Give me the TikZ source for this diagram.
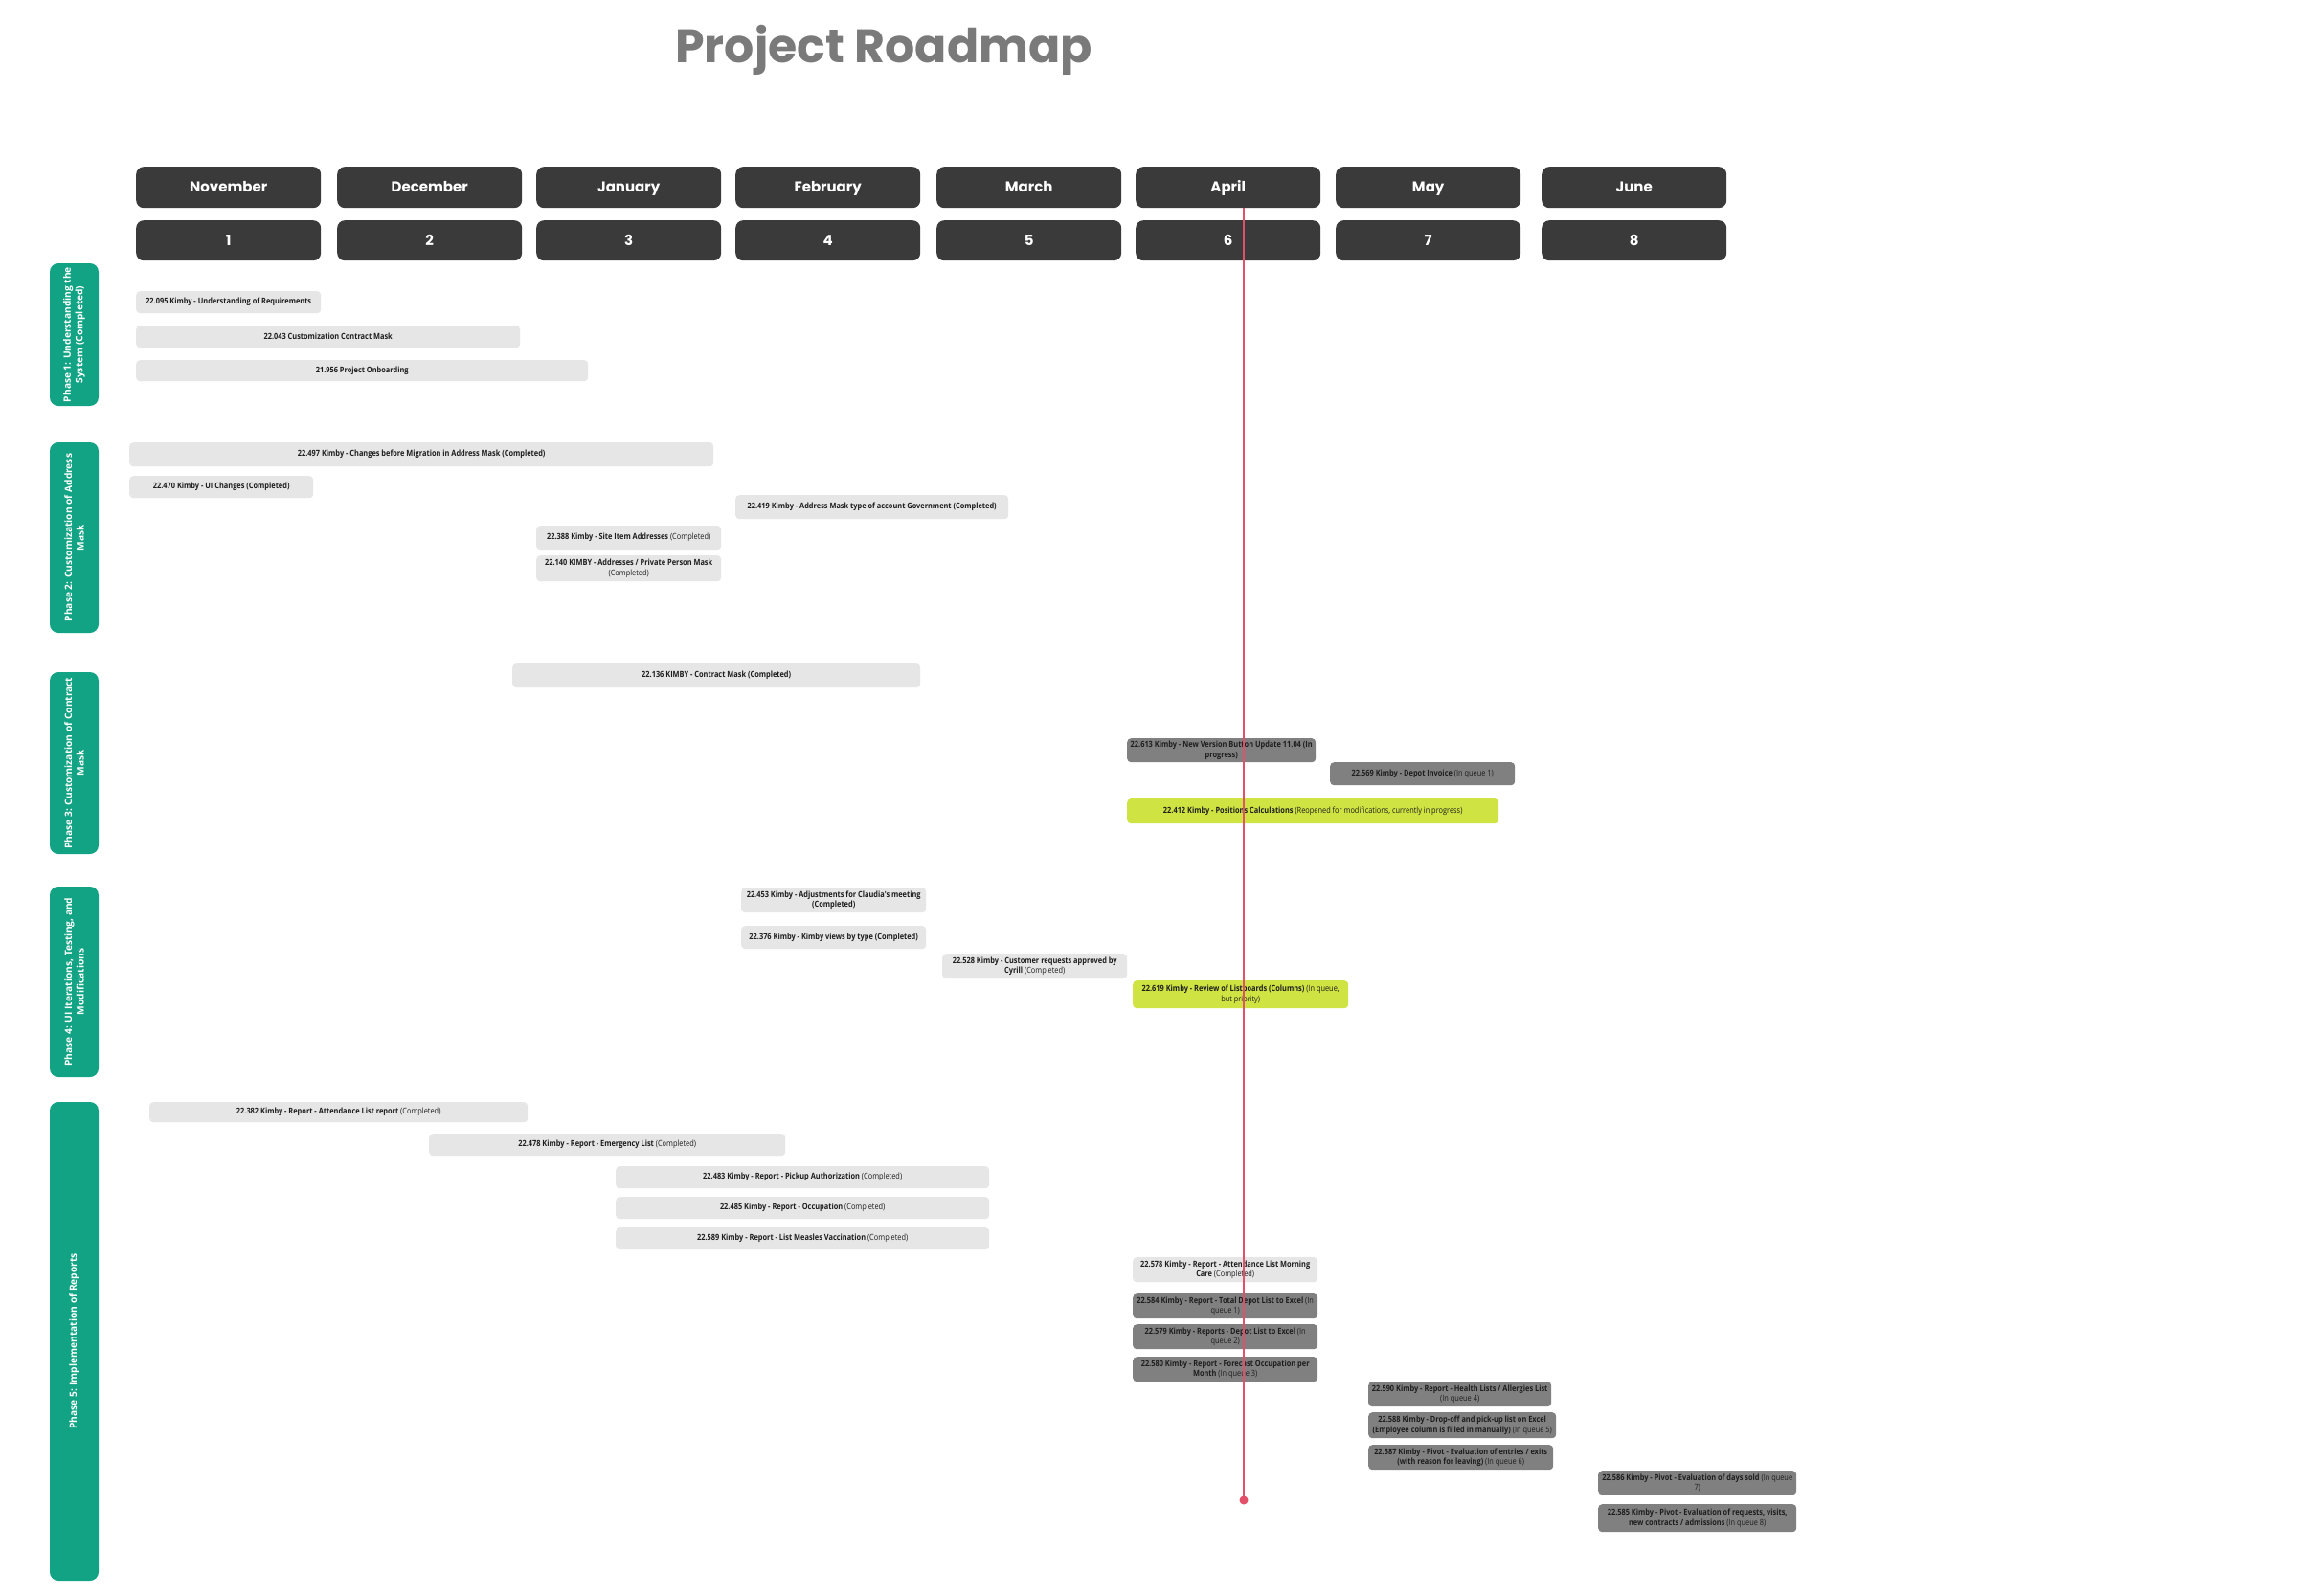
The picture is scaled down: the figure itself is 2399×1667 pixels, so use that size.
\documentclass[tikz,border=0pt]{standalone}
\usepackage{fontspec}
\usepackage{tikz}
\usetikzlibrary{positioning, calc}
\newfontfamily\headfont{Poppins}
\newfontfamily\phasefont{Open Sans}
\newfontfamily\taskfont[FakeStretch=0.86]{Open Sans}
\definecolor{titlegray}{HTML}{7A7A7A}
\definecolor{headdark}{HTML}{3A3A3A}
\definecolor{phasegreen}{HTML}{12A384}
\definecolor{donegray}{HTML}{E6E6E6}
\definecolor{queuegray}{HTML}{808080}
\definecolor{activelime}{HTML}{CFE442}
\definecolor{todayred}{HTML}{E2506A}
\definecolor{taskink}{HTML}{1E1E1E}
\newcommand{\taskstate}[1]{{\mdseries #1}}
\tikzstyle{monthbox} = [rectangle, rounded corners=8pt, fill=headdark, text=white, minimum width=193pt, minimum height=43pt, anchor=north west, text height=10.5pt, text depth=0pt, font=\headfont\bfseries\fontsize{15}{18}\selectfont]
\tikzstyle{sprintbox} = [monthbox, minimum height=42pt]
\tikzstyle{phasebox} = [rectangle, rounded corners=9pt, fill=phasegreen, text=white, rotate=90, minimum height=51pt, align=center, font=\phasefont\bfseries\fontsize{10.2}{12.5}\selectfont]
\tikzstyle{task} = [rectangle, rounded corners=4pt, anchor=north west, align=center, inner xsep=1.5pt, inner ysep=1pt, text=taskink, font=\taskfont\bfseries\fontsize{8.6}{10.5}\selectfont]
\tikzstyle{donetask} = [task, fill=donegray]
\tikzstyle{queuetask} = [task, fill=queuegray]
\tikzstyle{activetask} = [task, fill=activelime]
\tikzstyle{todayline} = [todayred, line width=1.6pt]

\begin{document}
\begin{tikzpicture}[x=1pt, y=-1pt]
    \fill[white] (0,0) rectangle (2399,1667);
    \useasboundingbox (0,0) rectangle (2399,1667);

    \node (title) [text=titlegray, font=\headfont\bfseries\fontsize{49}{58}\selectfont] at (923,52) {Project Roadmap};

    % months
    \node (nov) [monthbox] at (142,174) {November};
    \node (dec) [monthbox] at (352,174) {December};
    \node (jan) [monthbox] at (560,174) {January};
    \node (feb) [monthbox] at (768,174) {February};
    \node (mar) [monthbox] at (978,174) {March};
    \node (apr) [monthbox] at (1186,174) {April};
    \node (may) [monthbox] at (1395,174) {May};
    \node (jun) [monthbox] at (1610,174) {June};

    \node (s1) [sprintbox] at (142,230) {1};
    \node (s2) [sprintbox] at (352,230) {2};
    \node (s3) [sprintbox] at (560,230) {3};
    \node (s4) [sprintbox] at (768,230) {4};
    \node (s5) [sprintbox] at (978,230) {5};
    \node (s6) [sprintbox] at (1186,230) {6};
    \node (s7) [sprintbox] at (1395,230) {7};
    \node (s8) [sprintbox] at (1610,230) {8};

    % phases
    \node (phase1) [phasebox, minimum width=149pt] at (77.5,349.5) {Phase 1: Understanding the\\System (Completed)};
    \node (phase2) [phasebox, minimum width=199pt] at (77.5,561.5) {Phase 2: Customization of Address\\Mask};
    \node (phase3) [phasebox, minimum width=190pt] at (77.5,797) {Phase 3: Customization of Contract\\Mask};
    \node (phase4) [phasebox, minimum width=199pt] at (77.5,1025.5) {Phase 4: UI Iterations, Testing, and\\Modifications};
    \node (phase5) [phasebox, minimum width=500pt] at (77.5,1401) {Phase 5: Implementation of Reports};

    % phase 1
    \node (t095) [donetask, minimum width=193pt, minimum height=23pt] at (142,304) {22.095 Kimby - Understanding of Requirements};
    \node (t043) [donetask, minimum width=401pt, minimum height=23pt] at (142,340) {22.043 Customization Contract Mask};
    \node (t956) [donetask, minimum width=472pt, minimum height=22pt] at (142,376) {21.956 Project Onboarding};

    % phase 2
    \node (t497) [donetask, minimum width=610pt, minimum height=25pt] at (135,462) {22.497 Kimby - Changes before Migration in Address Mask (Completed)};
    \node (t470) [donetask, minimum width=192pt, minimum height=23pt] at (135,497) {22.470 Kimby - UI Changes (Completed)};
    \node (t419) [donetask, minimum width=285pt, minimum height=25pt] at (768,517) {22.419 Kimby - Address Mask type of account Government (Completed)};
    \node (t388) [donetask, minimum width=193pt, minimum height=25pt] at (560,549) {22.388 Kimby - Site Item Addresses \taskstate{(Completed)}};
    \node (t140) [donetask, minimum width=193pt, minimum height=27pt] at (560,580) {22.140 KIMBY - Addresses / Private Person Mask\\\taskstate{(Completed)}};

    % phase 3
    \node (t136) [donetask, minimum width=426pt, minimum height=25pt] at (535,693) {22.136 KIMBY - Contract Mask (Completed)};
    \node (t613) [queuetask, minimum width=197pt, minimum height=25pt] at (1177,771) {22.613 Kimby - New Version Button Update 11.04 (In\\progress)};
    \node (t569) [queuetask, minimum width=193pt, minimum height=24pt] at (1389,796) {22.569 Kimby - Depot Invoice \taskstate{(In queue 1)}};
    \node (t412) [activetask, minimum width=388pt, minimum height=26pt] at (1177,834) {22.412 Kimby - Positions Calculations \taskstate{(Reopened for modifications, currently in progress)}};

    % phase 4
    \node (t453) [donetask, minimum width=193pt, minimum height=26pt] at (774,927) {22.453 Kimby - Adjustments for Claudia's meeting\\(Completed)};
    \node (t376) [donetask, minimum width=193pt, minimum height=24pt] at (774,967) {22.376 Kimby - Kimby views by type (Completed)};
    \node (t528) [donetask, minimum width=193pt, minimum height=26pt] at (984,996) {22.528 Kimby - Customer requests approved by\\Cyrill \taskstate{(Completed)}};
    \node (t619) [activetask, minimum width=225pt, minimum height=29pt] at (1183,1024) {22.619 Kimby - Review of Listboards (Columns) \taskstate{(In queue,}\\\taskstate{but priority)}};

    % phase 5
    \node (t382) [donetask, minimum width=395pt, minimum height=21pt] at (156,1151) {22.382 Kimby - Report - Attendance List report \taskstate{(Completed)}};
    \node (t478) [donetask, minimum width=372pt, minimum height=23pt] at (448,1184) {22.478 Kimby - Report - Emergency List \taskstate{(Completed)}};
    \node (t483) [donetask, minimum width=390pt, minimum height=23pt] at (643,1218) {22.483 Kimby - Report - Pickup Authorization \taskstate{(Completed)}};
    \node (t485) [donetask, minimum width=390pt, minimum height=23pt] at (643,1250) {22.485 Kimby - Report - Occupation \taskstate{(Completed)}};
    \node (t589) [donetask, minimum width=390pt, minimum height=23pt] at (643,1282) {22.589 Kimby - Report - List Measles Vaccination \taskstate{(Completed)}};
    \node (t578) [donetask, minimum width=193pt, minimum height=26pt] at (1183,1313) {22.578 Kimby - Report - Attendance List Morning\\Care \taskstate{(Completed)}};
    \node (t584) [queuetask, minimum width=193pt, minimum height=26pt] at (1183,1351) {22.584 Kimby - Report - Total Depot List to Excel \taskstate{(In}\\\taskstate{queue 1)}};
    \node (t579) [queuetask, minimum width=193pt, minimum height=26pt] at (1183,1383) {22.579 Kimby - Reports - Depot List to Excel \taskstate{(In}\\\taskstate{queue 2)}};
    \node (t580) [queuetask, minimum width=193pt, minimum height=26pt] at (1183,1417) {22.580 Kimby - Report - Forecast Occupation per\\Month \taskstate{(In queue 3)}};
    \node (t590) [queuetask, minimum width=191pt, minimum height=26pt] at (1429,1443) {22.590 Kimby - Report - Health Lists / Allergies List\\\taskstate{(In queue 4)}};
    \node (t588) [queuetask, minimum width=196pt, minimum height=27pt] at (1429,1475) {22.588 Kimby - Drop-off and pick-up list on Excel\\(Employee column is filled in manually) \taskstate{(In queue 5)}};
    \node (t587) [queuetask, minimum width=193pt, minimum height=26pt] at (1429,1509) {22.587 Kimby - Pivot - Evaluation of entries / exits\\(with reason for leaving) \taskstate{(In queue 6)}};
    \node (t586) [queuetask, minimum width=207pt, minimum height=25pt] at (1669,1536) {22.586 Kimby - Pivot - Evaluation of days sold \taskstate{(In queue}\\\taskstate{7)}};
    \node (t585) [queuetask, minimum width=207pt, minimum height=29pt] at (1669,1571) {22.585 Kimby - Pivot - Evaluation of requests, visits,\\new contracts / admissions \taskstate{(In queue 8)}};

    % today marker
    \coordinate (today) at (1299,1567);
    \draw [todayline] (today |- apr.south) -- (today);
    \fill [todayred] (today) circle (4.5);
\end{tikzpicture}
\end{document}
